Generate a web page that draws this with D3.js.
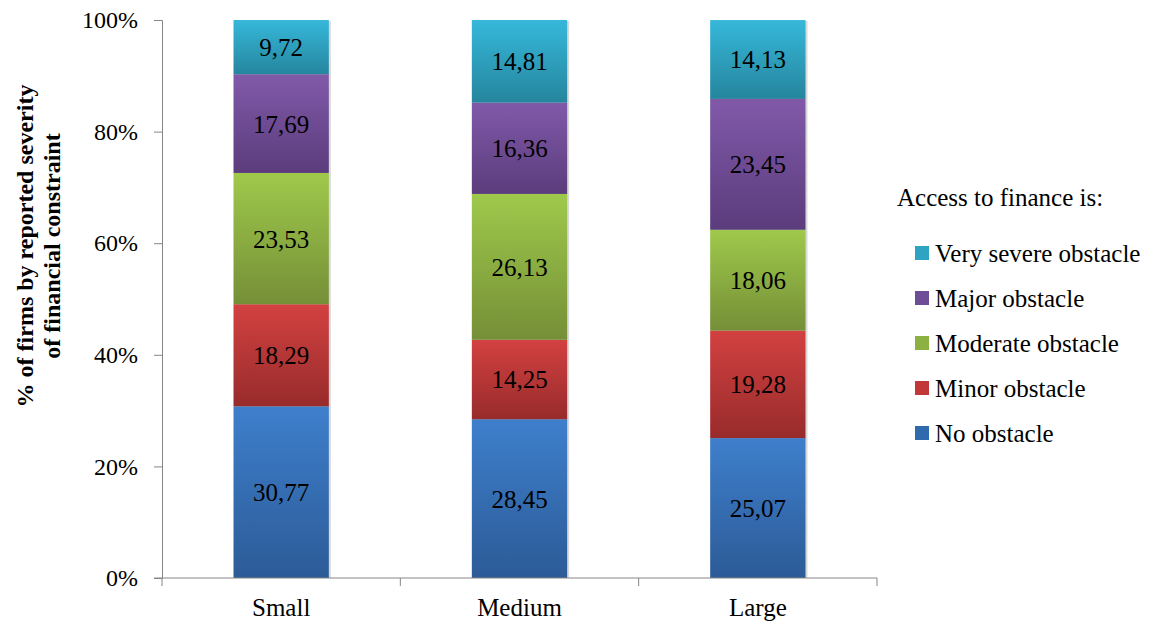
<!DOCTYPE html>
<html><head>
<script src="https://cdn.jsdelivr.net/npm/d3@7"></script>
</head><body style="margin:0">
<svg id="c" width="1166" height="630"></svg>
<script>
const categories = ["Small", "Medium", "Large"];
const seriesNames = ["No obstacle", "Minor obstacle", "Moderate obstacle", "Major obstacle", "Very severe obstacle"];
const noObstacle = [30.77, 28.45, 25.07];
const minorObstacle = [18.29, 14.25, 19.28];
const moderateObstacle = [23.53, 26.13, 18.06];
const majorObstacle = [17.69, 16.36, 23.45];
const verySevereObstacle = [9.72, 14.81, 14.13];
const yTicks = [0, 20, 40, 60, 80, 100];
const seriesValues = [noObstacle, minorObstacle, moderateObstacle, majorObstacle, verySevereObstacle];
const gradTop = ["#3e7fcc", "#d34141", "#9fc94b", "#8159a9", "#36b8da"];
const gradBot = ["#2c5b97", "#982b2b", "#758f37", "#5b3c7c", "#25859d"];
const legendColors = ["#2f6aad", "#c23737", "#8db043", "#6f4d96", "#2ea3c2"];

(function () {
const FF = "Liberation Serif, Noto Serif, serif";
const svg = d3.select("#c");
const defs = svg.append("defs");
seriesNames.forEach((s, i) => {
  const g = defs.append("linearGradient").attr("id", "g" + i).attr("x1", 0).attr("y1", 0).attr("x2", 0).attr("y2", 1);
  g.append("stop").attr("offset", "0%").attr("stop-color", gradTop[i]);
  g.append("stop").attr("offset", "100%").attr("stop-color", gradBot[i]);
});

const mLeft = 162, mRight = 877, mTop = 20, mBottom = 578;
const x = d3.scaleBand().domain(categories).range([mLeft, mRight]).paddingInner(0.6).paddingOuter(0.3);
const y = d3.scaleLinear().domain([0, 100]).range([mBottom, mTop]);

const rows = categories.map((c, j) => {
  const o = { cat: c };
  seriesNames.forEach((s, i) => o[s] = seriesValues[i][j]);
  return o;
});
const stacked = d3.stack().keys(seriesNames)(rows);

svg.append("g").selectAll("rect").data(categories).join("rect")
  .attr("x", d => x(d) + 1).attr("y", y(100) + 1)
  .attr("width", x.bandwidth() + 1).attr("height", y(0) - y(100) - 1)
  .attr("fill", "#d9d9d9");

const layers = svg.append("g").selectAll("g").data(stacked).join("g")
  .attr("fill", (d, i) => `url(#g${i})`);
layers.selectAll("rect").data(d => d).join("rect")
  .attr("x", d => x(d.data.cat)).attr("y", d => y(d[1]))
  .attr("width", x.bandwidth()).attr("height", d => y(d[0]) - y(d[1]));

const fmt = v => v.toFixed(2).replace(".", ",");
const labels = svg.append("g");
stacked.forEach(layer => {
  layer.forEach(p => {
    labels.append("text")
      .attr("x", x(p.data.cat) + x.bandwidth() / 2)
      .attr("y", y((p[0] + p[1]) / 2) + 9)
      .attr("text-anchor", "middle")
      .attr("font-family", FF).attr("font-size", 25).attr("fill", "#000")
      .text(fmt(p.data[layer.key]));
  });
});

const yAxis = svg.append("g").attr("transform", `translate(${mLeft},0)`)
  .call(d3.axisLeft(y).tickValues(yTicks).tickFormat(d => d + "%").tickSize(8).tickPadding(16));
yAxis.attr("font-family", FF).attr("font-size", 24);
yAxis.selectAll("line,path").attr("stroke", "#868686");
yAxis.selectAll("text").attr("fill", "#000").attr("font-family", FF);

const xAxis = svg.append("g").attr("transform", `translate(0,${mBottom})`);
xAxis.append("line").attr("x1", mLeft - 8).attr("x2", mRight).attr("stroke", "#868686");
const bounds = [mLeft, ...categories.slice(1).map(c => x(c) - x.step() * x.paddingInner() / 2), mRight];
xAxis.selectAll("line.t").data(bounds).join("line").attr("class", "t")
  .attr("x1", d => d).attr("x2", d => d).attr("y1", 0).attr("y2", 8).attr("stroke", "#868686");
categories.forEach(c => {
  svg.append("text").attr("x", x(c) + x.bandwidth() / 2).attr("y", mBottom + 38)
    .attr("text-anchor", "middle").attr("font-family", FF).attr("font-size", 25).text(c);
});

const yt = svg.append("text").attr("transform", "translate(0,246) rotate(-90)")
  .attr("text-anchor", "middle").attr("font-family", FF).attr("font-weight", "bold").attr("font-size", 24);
yt.append("tspan").attr("x", 0).attr("y", 33).text("% of firms by reported severity");
yt.append("tspan").attr("x", 0).attr("y", 60).text("of financial constraint");

svg.append("text").attr("x", 897).attr("y", 206).attr("font-family", FF).attr("font-size", 25).text("Access to finance is:");
const order = seriesNames.slice().reverse();
order.forEach((d, i) => {
  const cy = 253 + i * 45;
  svg.append("rect").attr("x", 915).attr("y", cy - 7).attr("width", 14).attr("height", 14)
    .attr("fill", legendColors[seriesNames.indexOf(d)]);
  svg.append("text").attr("x", 935).attr("y", cy + 9).attr("font-family", FF).attr("font-size", 25).text(d);
});
})();
</script></body></html>
